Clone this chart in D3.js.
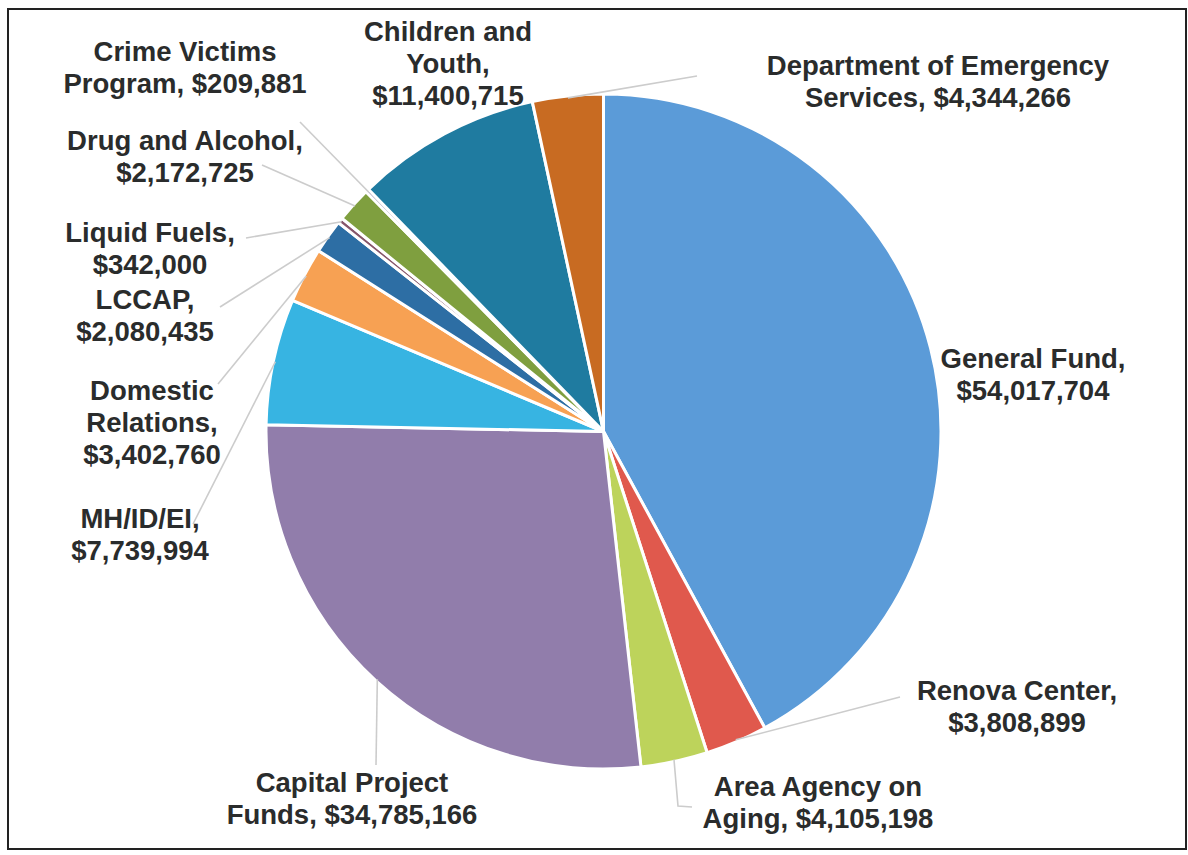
<!DOCTYPE html>
<html>
<head>
<meta charset="utf-8">
<script src="https://cdn.jsdelivr.net/npm/d3@7"></script>
<style>
  html, body { margin: 0; padding: 0; background: #fff; }
  svg { display: block; }
  .lbl { font-family: "Liberation Sans", Arial, Helvetica, sans-serif; font-weight: bold; font-size: 27.5px; fill: #2a2c2c; }
  .leader { fill: none; stroke: #cccccc; stroke-width: 1.6; }
</style>
</head>
<body>
<svg id="chart" width="1188" height="855"></svg>
<script>
(function () {
  "use strict";

  // Data (clockwise from 12 o'clock)
  const funds = [
    "General Fund", "Renova Center", "Area Agency on Aging", "Capital Project Funds",
    "MH/ID/EI", "Domestic Relations", "LCCAP", "Liquid Fuels",
    "Drug and Alcohol", "Crime Victims Program", "Children and Youth",
    "Department of Emergency Services"
  ];
  const amounts = [
    54017704, 3808899, 4105198, 34785166,
    7739994, 3402760, 2080435, 342000,
    2172725, 209881, 11400715,
    4344266
  ];
  // label text, split into lines as in the picture
  const labelLines = [
    ["General Fund,", "$54,017,704"],
    ["Renova Center,", "$3,808,899"],
    ["Area Agency on", "Aging, $4,105,198"],
    ["Capital Project", "Funds, $34,785,166"],
    ["MH/ID/EI,", "$7,739,994"],
    ["Domestic", "Relations,", "$3,402,760"],
    ["LCCAP,", "$2,080,435"],
    ["Liquid Fuels,", "$342,000"],
    ["Drug and Alcohol,", "$2,172,725"],
    ["Crime Victims", "Program, $209,881"],
    ["Children and", "Youth,", "$11,400,715"],
    ["Department of Emergency", "Services, $4,344,266"]
  ];

  // scanned Office palette
  const colors = [
    "#5b9bd8", "#e0594d", "#bdd35b", "#917dab",
    "#37b4e2", "#f7a153", "#2d6ea4", "#86566a",
    "#7f9f3f", "#5a4a78", "#1f7ba0", "#c86b22"
  ];

  // layout: label centre x, first line centre y, leader-line end (null = none)
  const labelLayout = [
    { x: 1033, y: 358, end: null },
    { x: 1017, y: 690, end: [[900, 697]] },
    { x: 818,  y: 786, end: [[678, 806], [692, 807]] },
    { x: 352,  y: 782, end: [[376, 765]] },
    { x: 140,  y: 518, end: [[193, 524]] },
    { x: 152,  y: 390, end: [[218, 384]] },
    { x: 145,  y: 299, end: [[220, 307]] },
    { x: 150,  y: 232, end: [[246, 238]] },
    { x: 185,  y: 140, end: [[262, 165]] },
    { x: 185,  y: 51,  end: [[300, 122]] },
    { x: 448,  y: 31,  end: null },
    { x: 938,  y: 65,  end: [[697, 76]] }
  ];

  const cx = 603.5, cy = 431.5, R = 337.5;
  const lineH = 32;

  const svg = d3.select("#chart");

  // frame
  svg.append("rect")
    .attr("x", 8).attr("y", 9)
    .attr("width", 1178).attr("height", 840)
    .attr("fill", "none").attr("stroke", "#222").attr("stroke-width", 2);

  const data = funds.map((f, i) => ({ fund: f, amount: amounts[i], i }));

  const pie = d3.pie().sort(null).value(d => d.amount)
    .startAngle(0).endAngle(2 * Math.PI);
  const arcs = pie(data);

  const arc = d3.arc().innerRadius(0).outerRadius(R);
  const edgeArc = d3.arc().innerRadius(R - 2).outerRadius(R - 2);

  const g = svg.append("g").attr("transform", `translate(${cx},${cy})`);

  g.selectAll("path.slice")
    .data(arcs)
    .join("path")
    .attr("class", "slice")
    .attr("d", arc)
    .attr("fill", d => colors[d.data.i])
    .attr("stroke", "#fff")
    .attr("stroke-width", 3)
    .attr("stroke-linejoin", "round");

  // leader lines
  const line = d3.line();
  g.selectAll("path.leader")
    .data(arcs.filter(d => labelLayout[d.data.i].end))
    .join("path")
    .attr("class", "leader")
    .attr("d", d => {
      const p0 = edgeArc.centroid(d);
      const rest = labelLayout[d.data.i].end.map(p => [p[0] - cx, p[1] - cy]);
      return line([p0, ...rest]);
    });

  // labels
  const labels = svg.selectAll("text.lbl")
    .data(arcs)
    .join("text")
    .attr("class", "lbl")
    .attr("text-anchor", "middle")
    .attr("x", d => labelLayout[d.data.i].x)
    .attr("y", d => labelLayout[d.data.i].y);

  labels.selectAll("tspan")
    .data(d => labelLines[d.data.i].map((t, k) => ({ t, k, x: labelLayout[d.data.i].x, y: labelLayout[d.data.i].y })))
    .join("tspan")
    .attr("x", d => d.x)
    .attr("y", d => d.y + d.k * lineH)
    .attr("dominant-baseline", "central")
    .text(d => d.t);
})();
</script>
</body>
</html>
